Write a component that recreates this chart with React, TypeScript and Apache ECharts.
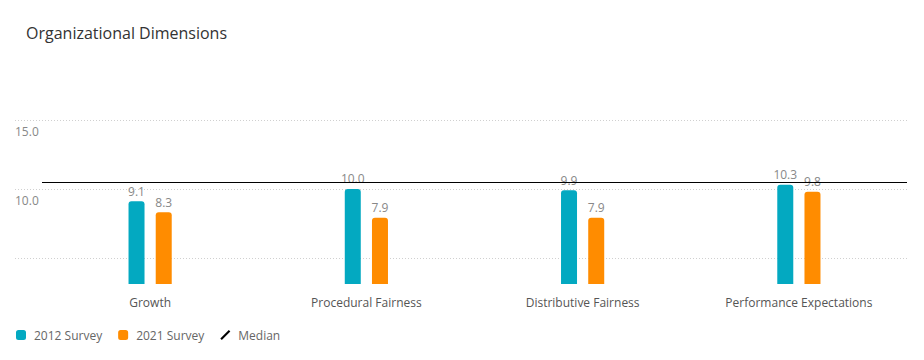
import React, { useEffect, useRef } from "react";
import * as echarts from "echarts";

const categories = ["Growth", "Procedural Fairness", "Distributive Fairness", "Performance Expectations"];
const survey2012 = [9.1, 10.0, 9.9, 10.3];
const survey2021 = [8.3, 7.9, 7.9, 9.8];
const medianValue = [10.5];
const yTickLabels = ["10.0", "15.0"];

export default function App() {
  const ref = useRef<HTMLDivElement>(null);
  useEffect(() => {
    document.body.style.margin = "0";
    if (!ref.current) return;
    const chart = echarts.init(ref.current, null, { renderer: "svg" });
    const font = "'Open Sans', sans-serif";
    chart.setOption({
      animation: false,
      textStyle: { fontFamily: font },
      title: {
        text: "Organizational Dimensions",
        left: 21,
        top: 20,
        textStyle: { fontFamily: font, fontSize: 16, fontWeight: "normal", color: "#333" },
      },
      legend: {
        left: 16,
        top: 329,
        padding: 0,
        itemWidth: 10,
        itemHeight: 10,
        itemGap: 16,
        textStyle: { fontFamily: font, fontSize: 12, color: "#666", padding: [0, 0, 0, 3] },
        data: [
          { name: "2012 Survey", icon: "roundRect" },
          { name: "2021 Survey", icon: "roundRect" },
          { name: "Median", icon: "path://M0,8.5 L8.5,0 L10,1.5 L1.5,10 Z" },
        ],
      },
      grid: [
        { left: 15, right: 17, top: 120, bottom: 33 },
        { left: 42, right: 17, top: 120, bottom: 76 },
      ],
      xAxis: [
        { type: "value", gridIndex: 0, show: false, min: 0, max: 1 },
        {
          type: "category",
          gridIndex: 1,
          data: categories,
          axisLine: { show: false },
          axisTick: { show: false },
          axisLabel: { color: "#555", fontSize: 12, fontFamily: font, margin: 12 },
        },
      ],
      yAxis: [
        {
          type: "value",
          gridIndex: 0,
          min: 0,
          max: 15,
          interval: 5,
          axisLine: { show: false },
          axisTick: { show: false },
          splitLine: {
            show: true,
            showMinLine: false,
            lineStyle: { color: "#d0d0d0", type: [1, 2], width: 1 },
          },
          axisLabel: {
            inside: true,
            margin: 0,
            verticalAlign: "top",
            padding: [5, 0, 0, 0],
            color: "#888",
            fontSize: 12,
            fontFamily: font,
            showMinLabel: false,
            formatter: (v: number) => {
              const s = v.toFixed(1);
              return yTickLabels.includes(s) ? s : "";
            },
          },
        },
        {
          type: "value",
          gridIndex: 1,
          min: 3.1,
          max: 15,
          show: false,
          splitLine: { show: false },
        },
      ],
      series: [
        {
          name: "2012 Survey",
          type: "bar",
          xAxisIndex: 1,
          yAxisIndex: 1,
          data: survey2012,
          barWidth: 16,
          barGap: "70%",
          itemStyle: { color: "#03A9C1", borderRadius: [3, 3, 0, 0] },
          label: {
            show: true,
            position: "top",
            distance: 4,
            color: "#888",
            fontSize: 12,
            fontFamily: font,
            formatter: (p: any) => Number(p.value).toFixed(1),
          },
        },
        {
          name: "2021 Survey",
          type: "bar",
          xAxisIndex: 1,
          yAxisIndex: 1,
          data: survey2021,
          barWidth: 16,
          barGap: "70%",
          itemStyle: { color: "#FF8C00", borderRadius: [3, 3, 0, 0] },
          label: {
            show: true,
            position: "top",
            distance: 4,
            color: "#888",
            fontSize: 12,
            fontFamily: font,
            formatter: (p: any) => Number(p.value).toFixed(1),
          },
        },
        {
          name: "Median",
          type: "line",
          xAxisIndex: 1,
          yAxisIndex: 1,
          data: [],
          itemStyle: { color: "#000" },
          lineStyle: { color: "#000" },
          markLine: {
            silent: true,
            symbol: "none",
            label: { show: false },
            lineStyle: { color: "#000", type: "solid", width: 1 },
            data: medianValue.map((v) => ({ yAxis: v })),
          },
        },
      ],
    });
    return () => chart.dispose();
  }, []);
  return <div ref={ref} style={{ width: 924, height: 360 }} />;
}
